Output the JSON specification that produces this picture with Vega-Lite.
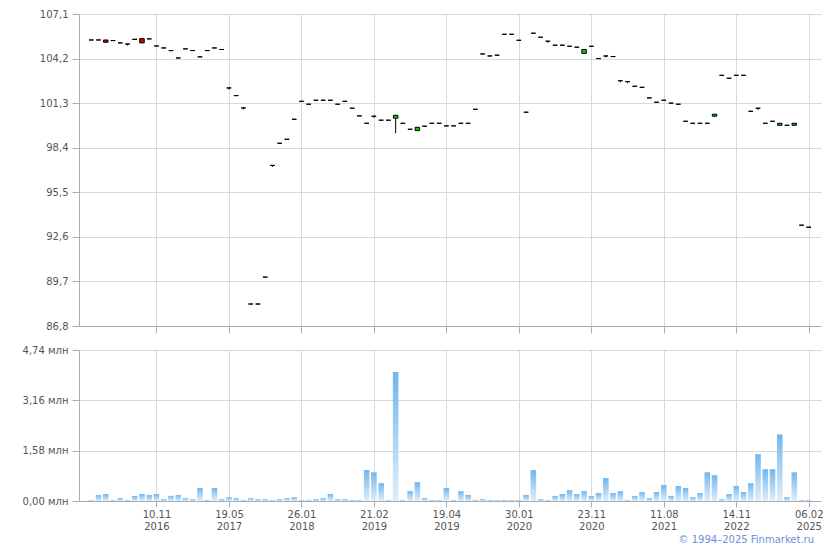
{
  "$schema": "https://vega.github.io/schema/vega-lite/v6.json",
  "background": "white",
  "padding": {"left": 22, "top": 9, "right": 5, "bottom": 4},
  "spacing": 11,
  "config": {
    "view": {"stroke": null},
    "axis": {
      "labelFont": "DejaVu Sans",
      "labelFontSize": 10,
      "labelColor": "#555555",
      "gridColor": "#d6dadd",
      "gridWidth": 1,
      "domainColor": "#a9aeb5",
      "tickColor": "#a9aeb5",
      "title": null
    }
  },
  "title": {
    "text": "© 1994–2025 Finmarket.ru",
    "orient": "bottom",
    "anchor": "end",
    "font": "DejaVu Sans",
    "fontSize": 10,
    "fontWeight": "normal",
    "color": "#6f8fdb",
    "offset": 4,
    "dx": -9
  },
  "data": {"values": [
    {"i":0,"o":105.41,"c":105.41,"l":105.41,"h":105.41,"v":0.03},
    {"i":1,"o":105.41,"c":105.41,"l":105.41,"h":105.41,"v":0.19},
    {"i":2,"o":105.41,"c":105.26,"l":105.26,"h":105.41,"v":0.22},
    {"i":3,"o":105.37,"c":105.37,"l":105.37,"h":105.37,"v":0.03},
    {"i":4,"o":105.22,"c":105.22,"l":105.22,"h":105.22,"v":0.09},
    {"i":5,"o":105.15,"c":105.15,"l":105.05,"h":105.15,"v":0.03},
    {"i":6,"o":105.46,"c":105.44,"l":105.44,"h":105.46,"v":0.16},
    {"i":7,"o":105.5,"c":105.22,"l":105.22,"h":105.5,"v":0.22},
    {"i":8,"o":105.48,"c":105.48,"l":105.48,"h":105.48,"v":0.19},
    {"i":9,"o":105.02,"c":105.02,"l":105.02,"h":105.02,"v":0.22},
    {"i":10,"o":104.89,"c":104.89,"l":104.89,"h":104.89,"v":0.06},
    {"i":11,"o":104.72,"c":104.72,"l":104.72,"h":104.72,"v":0.16},
    {"i":12,"o":104.24,"c":104.24,"l":104.24,"h":104.24,"v":0.19},
    {"i":13,"o":104.83,"c":104.83,"l":104.83,"h":104.83,"v":0.09},
    {"i":14,"o":104.72,"c":104.72,"l":104.72,"h":104.72,"v":0.06},
    {"i":15,"o":104.31,"c":104.31,"l":104.31,"h":104.31,"v":0.41},
    {"i":16,"o":104.72,"c":104.72,"l":104.72,"h":104.72,"v":0.03},
    {"i":17,"o":104.89,"c":104.89,"l":104.89,"h":104.89,"v":0.41},
    {"i":18,"o":104.79,"c":104.79,"l":104.79,"h":104.79,"v":0.06},
    {"i":19,"o":102.29,"c":102.29,"l":102.19,"h":102.29,"v":0.12},
    {"i":20,"o":101.79,"c":101.79,"l":101.79,"h":101.79,"v":0.09},
    {"i":21,"o":100.99,"c":100.99,"l":100.89,"h":100.99,"v":0.03},
    {"i":22,"o":88.23,"c":88.23,"l":88.23,"h":88.23,"v":0.09},
    {"i":23,"o":88.23,"c":88.23,"l":88.23,"h":88.23,"v":0.06},
    {"i":24,"o":89.98,"c":89.98,"l":89.98,"h":89.98,"v":0.06},
    {"i":25,"o":97.25,"c":97.25,"l":97.15,"h":97.25,"v":0.03},
    {"i":26,"o":98.69,"c":98.69,"l":98.69,"h":98.69,"v":0.06},
    {"i":27,"o":98.95,"c":98.95,"l":98.95,"h":98.95,"v":0.09},
    {"i":28,"o":100.25,"c":100.25,"l":100.25,"h":100.25,"v":0.12},
    {"i":29,"o":101.42,"c":101.42,"l":101.42,"h":101.42,"v":0.03},
    {"i":30,"o":101.23,"c":101.23,"l":101.23,"h":101.23,"v":0.03},
    {"i":31,"o":101.49,"c":101.49,"l":101.49,"h":101.49,"v":0.06},
    {"i":32,"o":101.49,"c":101.49,"l":101.49,"h":101.49,"v":0.09},
    {"i":33,"o":101.49,"c":101.49,"l":101.49,"h":101.49,"v":0.22},
    {"i":34,"o":101.23,"c":101.23,"l":101.23,"h":101.23,"v":0.06},
    {"i":35,"o":101.42,"c":101.42,"l":101.42,"h":101.42,"v":0.06},
    {"i":36,"o":100.97,"c":100.97,"l":100.97,"h":100.97,"v":0.03},
    {"i":37,"o":100.47,"c":100.47,"l":100.47,"h":100.47,"v":0.03},
    {"i":38,"o":99.99,"c":99.99,"l":99.99,"h":99.99,"v":0.97},
    {"i":39,"o":100.45,"c":100.45,"l":100.35,"h":100.45,"v":0.9},
    {"i":40,"o":100.19,"c":100.19,"l":100.19,"h":100.19,"v":0.56},
    {"i":41,"o":100.19,"c":100.19,"l":100.19,"h":100.19,"v":0.03},
    {"i":42,"o":100.32,"c":100.51,"l":99.34,"h":100.51,"v":4.05},
    {"i":43,"o":99.99,"c":99.99,"l":99.99,"h":99.99,"v":0.03},
    {"i":44,"o":99.6,"c":99.6,"l":99.6,"h":99.6,"v":0.31},
    {"i":45,"o":99.51,"c":99.73,"l":99.51,"h":99.73,"v":0.59},
    {"i":46,"o":99.8,"c":99.8,"l":99.8,"h":99.8,"v":0.09},
    {"i":47,"o":99.99,"c":99.99,"l":99.99,"h":99.99,"v":0.03},
    {"i":48,"o":99.99,"c":99.99,"l":99.99,"h":99.99,"v":0.03},
    {"i":49,"o":99.82,"c":99.82,"l":99.82,"h":99.82,"v":0.41},
    {"i":50,"o":99.82,"c":99.82,"l":99.82,"h":99.82,"v":0.03},
    {"i":51,"o":99.99,"c":99.99,"l":99.99,"h":99.99,"v":0.31},
    {"i":52,"o":99.99,"c":99.99,"l":99.99,"h":99.99,"v":0.19},
    {"i":53,"o":100.9,"c":100.9,"l":100.9,"h":100.9,"v":0.03},
    {"i":54,"o":104.5,"c":104.5,"l":104.5,"h":104.5,"v":0.06},
    {"i":55,"o":104.37,"c":104.37,"l":104.37,"h":104.37,"v":0.03},
    {"i":56,"o":104.42,"c":104.42,"l":104.42,"h":104.42,"v":0.03},
    {"i":57,"o":105.78,"c":105.78,"l":105.78,"h":105.78,"v":0.03},
    {"i":58,"o":105.78,"c":105.78,"l":105.78,"h":105.78,"v":0.03},
    {"i":59,"o":105.39,"c":105.39,"l":105.39,"h":105.39,"v":0.03},
    {"i":60,"o":100.71,"c":100.71,"l":100.71,"h":100.71,"v":0.19},
    {"i":61,"o":105.85,"c":105.85,"l":105.85,"h":105.85,"v":0.97},
    {"i":62,"o":105.59,"c":105.59,"l":105.59,"h":105.59,"v":0.06},
    {"i":63,"o":105.33,"c":105.33,"l":105.23,"h":105.33,"v":0.03},
    {"i":64,"o":105.07,"c":105.07,"l":105.07,"h":105.07,"v":0.16},
    {"i":65,"o":105.07,"c":105.07,"l":105.07,"h":105.07,"v":0.22},
    {"i":66,"o":105.0,"c":105.0,"l":105.0,"h":105.0,"v":0.34},
    {"i":67,"o":104.94,"c":104.94,"l":104.94,"h":104.94,"v":0.22},
    {"i":68,"o":104.54,"c":104.79,"l":104.54,"h":104.79,"v":0.31},
    {"i":69,"o":105.0,"c":105.0,"l":105.0,"h":105.0,"v":0.16},
    {"i":70,"o":104.2,"c":104.2,"l":104.2,"h":104.2,"v":0.25},
    {"i":71,"o":104.37,"c":104.37,"l":104.27,"h":104.37,"v":0.72},
    {"i":72,"o":104.33,"c":104.33,"l":104.33,"h":104.33,"v":0.25},
    {"i":73,"o":102.76,"c":102.76,"l":102.66,"h":102.76,"v":0.31},
    {"i":74,"o":102.7,"c":102.7,"l":102.6,"h":102.7,"v":0.03},
    {"i":75,"o":102.4,"c":102.4,"l":102.4,"h":102.4,"v":0.16},
    {"i":76,"o":102.33,"c":102.33,"l":102.33,"h":102.33,"v":0.28},
    {"i":77,"o":101.64,"c":101.64,"l":101.64,"h":101.64,"v":0.09},
    {"i":78,"o":101.36,"c":101.36,"l":101.36,"h":101.36,"v":0.28},
    {"i":79,"o":101.49,"c":101.49,"l":101.49,"h":101.49,"v":0.5},
    {"i":80,"o":101.3,"c":101.3,"l":101.3,"h":101.3,"v":0.16},
    {"i":81,"o":101.23,"c":101.23,"l":101.23,"h":101.23,"v":0.47},
    {"i":82,"o":100.12,"c":100.12,"l":100.12,"h":100.12,"v":0.41},
    {"i":83,"o":99.99,"c":99.99,"l":99.99,"h":99.99,"v":0.12},
    {"i":84,"o":99.99,"c":99.99,"l":99.99,"h":99.99,"v":0.25},
    {"i":85,"o":99.99,"c":99.99,"l":99.99,"h":99.99,"v":0.9},
    {"i":86,"o":100.45,"c":100.58,"l":100.45,"h":100.58,"v":0.81},
    {"i":87,"o":103.11,"c":103.11,"l":103.11,"h":103.11,"v":0.06},
    {"i":88,"o":102.92,"c":102.92,"l":102.92,"h":102.92,"v":0.22},
    {"i":89,"o":103.11,"c":103.11,"l":103.11,"h":103.11,"v":0.47},
    {"i":90,"o":103.11,"c":103.11,"l":103.11,"h":103.11,"v":0.28},
    {"i":91,"o":100.77,"c":100.77,"l":100.77,"h":100.77,"v":0.56},
    {"i":92,"o":100.97,"c":100.97,"l":100.87,"h":100.97,"v":1.47},
    {"i":93,"o":99.99,"c":99.99,"l":99.99,"h":99.99,"v":1.0},
    {"i":94,"o":100.12,"c":100.12,"l":100.12,"h":100.12,"v":1.0},
    {"i":95,"o":99.86,"c":99.99,"l":99.86,"h":99.99,"v":2.09},
    {"i":96,"o":99.86,"c":99.86,"l":99.86,"h":99.86,"v":0.12},
    {"i":97,"o":99.86,"c":99.99,"l":99.86,"h":99.99,"v":0.9},
    {"i":98,"o":93.36,"c":93.36,"l":93.36,"h":93.36,"v":0.03},
    {"i":99,"o":93.23,"c":93.23,"l":93.23,"h":93.23,"v":0.03}
  ]},
  "vconcat": [
    {
      "width": 742,
      "height": 312,
      "encoding": {
        "x": {
          "field": "i", "type": "quantitative",
          "scale": {"domain": [-1, 100], "nice": false, "zero": false},
          "axis": {"values": [9,19,29,39,49,59,69,79,89,99], "labels": false, "tickSize": 7, "domain": true, "grid": true}
        }
      },
      "layer": [
        {
          "mark": {"type": "rule", "color": "black", "strokeWidth": 1},
          "encoding": {
            "y": {
              "field": "l", "type": "quantitative",
              "scale": {"domain": [86.8, 107.1], "nice": false, "zero": false},
              "axis": {"values": [86.8, 89.7, 92.6, 95.5, 98.4, 101.3, 104.2, 107.1], "labelExpr": "replace(format(datum.value, '.1f'), '.', ',')", "tickSize": 7, "labelPadding": 4, "title": null}
            },
            "y2": {"field": "h"}
          }
        },
        {
          "mark": {"type": "bar", "width": 4.5, "stroke": "black", "strokeWidth": 1},
          "encoding": {
            "y": {
              "field": "o", "type": "quantitative",
              "scale": {"domain": [86.8, 107.1], "nice": false, "zero": false},
              "axis": {"values": [86.8, 89.7, 92.6, 95.5, 98.4, 101.3, 104.2, 107.1], "labelExpr": "replace(format(datum.value, '.1f'), '.', ',')", "tickSize": 7, "labelPadding": 4, "title": null}
            },
            "y2": {"field": "c"},
            "fill": {
              "condition": [
                {"test": "datum.c > datum.o", "value": "#00d000"},
                {"test": "datum.c < datum.o", "value": "#e00000"}
              ],
              "value": "black"
            }
          }
        }
      ]
    },
    {
      "width": 742,
      "height": 151,
      "mark": {
        "type": "bar",
        "width": 5.6,
        "color": {
          "gradient": "linear",
          "x1": 0, "y1": 1, "x2": 0, "y2": 0,
          "stops": [
            {"offset": 0, "color": "#dfeefb"},
            {"offset": 1, "color": "#72b7ee"}
          ]
        }
      },
      "encoding": {
        "x": {
          "field": "i", "type": "quantitative",
          "scale": {"domain": [-1, 100], "nice": false, "zero": false},
          "axis": {
            "values": [9,19,29,39,49,59,69,79,89,99],
            "tickSize": 6,
            "labelPadding": 2,
            "labelLineHeight": 12,
            "labelExpr": "[['10.11','19.05','26.01','21.02','19.04','30.01','23.11','11.08','14.11','06.02'][floor(datum.value/10)], ['2016','2017','2018','2019','2019','2020','2020','2021','2022','2025'][floor(datum.value/10)]]"
          }
        },
        "y": {
          "field": "v", "type": "quantitative",
          "scale": {"domain": [0, 4.74], "nice": false, "zero": true},
          "axis": {
            "values": [0, 1.58, 3.16, 4.74],
            "tickSize": 7,
            "labelPadding": 4,
            "labelExpr": "replace(format(datum.value, '.2f'), '.', ',') + ' млн'"
          }
        }
      }
    }
  ]
}
